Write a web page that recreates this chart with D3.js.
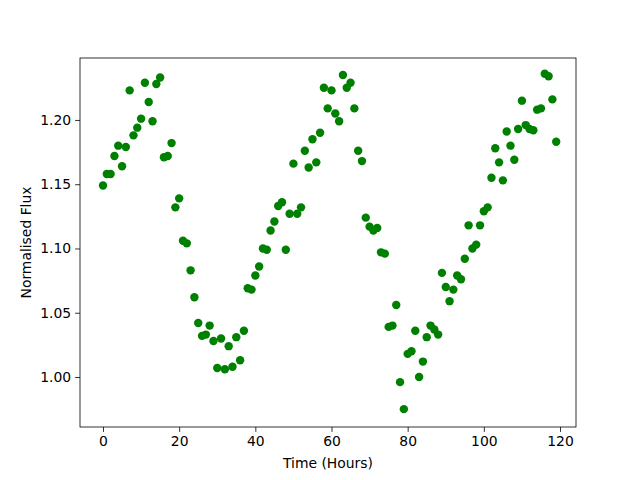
<!DOCTYPE html>
<html>
<head>
<meta charset="utf-8">
<script src="https://cdn.jsdelivr.net/npm/d3@7"></script>
<style>
  body { margin: 0; background: #fff; }
  svg { display: block; font-family: "DejaVu Sans", sans-serif; }
</style>
</head>
<body>
<svg id="chart" width="640" height="480"></svg>
<script>
// observation times (hours)
const hours = [
  0, 1, 2, 3, 4, 5, 6, 7, 8, 9, 10, 11, 12, 13, 14, 15, 16, 17, 18, 19,
  20, 21, 22, 23, 24, 25, 26, 27, 28, 29, 30, 31, 32, 33, 34, 35, 36, 37, 38, 39,
  40, 41, 42, 43, 44, 45, 46, 47, 48, 49, 50, 51, 52, 53, 54, 55, 56, 57, 58, 59,
  60, 61, 62, 63, 64, 65, 66, 67, 68, 69, 70, 71, 72, 73, 74, 75, 76, 77, 78, 79,
  80, 81, 82, 83, 84, 85, 86, 87, 88, 89, 90, 91, 92, 93, 94, 95, 96, 97, 98, 99,
  100, 101, 102, 103, 104, 105, 106, 107, 108, 109, 110, 111, 112, 113, 114, 115, 116, 117, 118, 119
];
// normalised flux
const flux = [
  1.149, 1.158, 1.158, 1.172, 1.180, 1.164, 1.179, 1.223, 1.188, 1.194,
  1.201, 1.229, 1.214, 1.199, 1.228, 1.233, 1.171, 1.172, 1.182, 1.132,
  1.139, 1.106, 1.104, 1.083, 1.062, 1.042, 1.032, 1.033, 1.040, 1.028,
  1.007, 1.030, 1.006, 1.024, 1.008, 1.031, 1.013, 1.036, 1.069, 1.068,
  1.079, 1.086, 1.100, 1.099, 1.114, 1.121, 1.133, 1.136, 1.099, 1.127,
  1.166, 1.127, 1.132, 1.176, 1.163, 1.185, 1.167, 1.190, 1.225, 1.209,
  1.223, 1.205, 1.199, 1.235, 1.225, 1.229, 1.209, 1.176, 1.168, 1.124,
  1.117, 1.114, 1.116, 1.097, 1.096, 1.039, 1.040, 1.056, 0.996, 0.975,
  1.018, 1.020, 1.036, 1.000, 1.012, 1.031, 1.040, 1.037, 1.033, 1.081,
  1.070, 1.059, 1.068, 1.079, 1.076, 1.092, 1.118, 1.100, 1.103, 1.118,
  1.129, 1.132, 1.155, 1.178, 1.167, 1.153, 1.191, 1.180, 1.169, 1.193,
  1.215, 1.196, 1.193, 1.192, 1.208, 1.209, 1.236, 1.234, 1.216, 1.183
];
const xTicks = [0, 20, 40, 60, 80, 100, 120];
const yTicks = [1.00, 1.05, 1.10, 1.15, 1.20];

const width = 640, height = 480;
const margin = { top: 58, right: 64, bottom: 53, left: 80 };
const innerW = width - margin.left - margin.right;
const innerH = height - margin.top - margin.bottom;

const svg = d3.select('#chart');
const g = svg.append('g').attr('transform', `translate(${margin.left},${margin.top})`);

const x = d3.scaleLinear().domain([-6.04, 124.2]).range([0, innerW]);
const y = d3.scaleLinear().domain([0.9611, 1.2482]).range([innerH, 0]);

const points = hours.map((h, i) => ({ h, f: flux[i] }));

g.selectAll('circle')
  .data(points)
  .enter()
  .append('circle')
  .attr('cx', d => x(d.h))
  .attr('cy', d => y(d.f))
  .attr('r', 4.2)
  .attr('fill', '#008000');

const xAxis = g.append('g')
  .attr('transform', `translate(0,${innerH})`)
  .call(d3.axisBottom(x).tickValues(xTicks).tickFormat(d3.format('d')).tickSize(4.9).tickPadding(4));
const yAxis = g.append('g')
  .call(d3.axisLeft(y).tickValues(yTicks).tickFormat(d3.format('.2f')).tickSize(4.9).tickPadding(4));

[xAxis, yAxis].forEach(a => {
  a.select('.domain').remove();
  a.selectAll('line').attr('stroke', '#000').attr('stroke-width', 0.8);
  a.selectAll('text').attr('fill', '#000').style('font-size', '13.9px').style('font-family', '"DejaVu Sans", sans-serif');
});

// frame
g.append('rect')
  .attr('width', innerW)
  .attr('height', innerH)
  .attr('fill', 'none')
  .attr('stroke', '#000')
  .attr('stroke-width', 0.8);

svg.append('text')
  .attr('x', margin.left + innerW / 2)
  .attr('y', 468)
  .attr('text-anchor', 'middle')
  .style('font-size', '13.9px')
  .text('Time (Hours)');

svg.append('text')
  .attr('transform', `translate(31,${margin.top + innerH / 2}) rotate(-90)`)
  .attr('text-anchor', 'middle')
  .style('font-size', '13.9px')
  .text('Normalised Flux');
</script>
</body>
</html>
